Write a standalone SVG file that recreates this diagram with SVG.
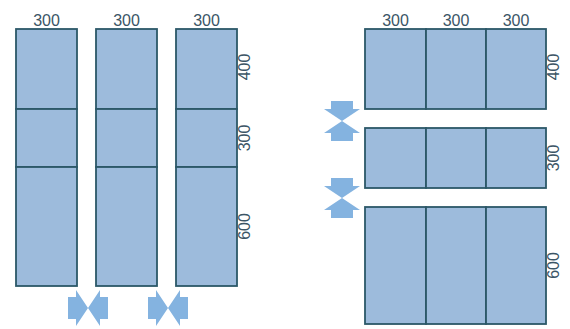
<svg xmlns="http://www.w3.org/2000/svg" xmlns:xlink="http://www.w3.org/1999/xlink" width="570" height="329" viewBox="0 0 570 329">
<style>
.cell{fill:#9dbbdc;stroke:#2c5868;stroke-width:1.8}
.lbl{font-family:"Liberation Sans",Arial,sans-serif;font-size:16px;fill:#3b5566;text-anchor:middle}
.arr{fill:#84b3e0}
</style>
<defs>
<path id="arrow" class="arr" d="M-20,-11 L-12,-11 L-12,-18 L0,0 L-12,18 L-12,11 L-20,11 Z"/>
</defs>
<rect width="570" height="329" fill="#ffffff"/>
<g id="col1">
<rect class="cell" x="16" y="29" width="61" height="80"/>
<rect class="cell" x="16" y="109" width="61" height="58"/>
<rect class="cell" x="16" y="167" width="61" height="119"/>
<text class="lbl" x="46.5" y="26">300</text>
</g>
<g id="col2">
<rect class="cell" x="96" y="29" width="61" height="80"/>
<rect class="cell" x="96" y="109" width="61" height="58"/>
<rect class="cell" x="96" y="167" width="61" height="119"/>
<text class="lbl" x="126.5" y="26">300</text>
</g>
<g id="col3">
<rect class="cell" x="176" y="29" width="61" height="80"/>
<rect class="cell" x="176" y="109" width="61" height="58"/>
<rect class="cell" x="176" y="167" width="61" height="119"/>
<text class="lbl" x="206.5" y="26">300</text>
<text class="lbl" transform="translate(250,67) rotate(-90)">400</text>
<text class="lbl" transform="translate(250,138) rotate(-90)">300</text>
<text class="lbl" transform="translate(250,226.5) rotate(-90)">600</text>
</g>
<g id="row1">
<rect class="cell" x="365" y="29" width="61" height="80"/>
<rect class="cell" x="426" y="29" width="60" height="80"/>
<rect class="cell" x="486" y="29" width="60" height="80"/>
<text class="lbl" x="395.5" y="26">300</text>
<text class="lbl" x="456" y="26">300</text>
<text class="lbl" x="516" y="26">300</text>
<text class="lbl" transform="translate(559,67) rotate(-90)">400</text>
</g>
<g id="row2">
<rect class="cell" x="365" y="128" width="61" height="60"/>
<rect class="cell" x="426" y="128" width="60" height="60"/>
<rect class="cell" x="486" y="128" width="60" height="60"/>
<text class="lbl" transform="translate(559,158) rotate(-90)">300</text>
</g>
<g id="row3">
<rect class="cell" x="365" y="207" width="61" height="117"/>
<rect class="cell" x="426" y="207" width="60" height="117"/>
<rect class="cell" x="486" y="207" width="60" height="117"/>
<text class="lbl" transform="translate(559,265.5) rotate(-90)">600</text>
</g>
<g id="connectors">
<use xlink:href="#arrow" transform="translate(88,308)"/>
<use xlink:href="#arrow" transform="translate(88,308) rotate(180)"/>
<use xlink:href="#arrow" transform="translate(168,308)"/>
<use xlink:href="#arrow" transform="translate(168,308) rotate(180)"/>
<use xlink:href="#arrow" transform="translate(342,121) rotate(90)"/>
<use xlink:href="#arrow" transform="translate(342,121) rotate(-90)"/>
<use xlink:href="#arrow" transform="translate(342,198) rotate(90)"/>
<use xlink:href="#arrow" transform="translate(342,198) rotate(-90)"/>
</g>
</svg>
